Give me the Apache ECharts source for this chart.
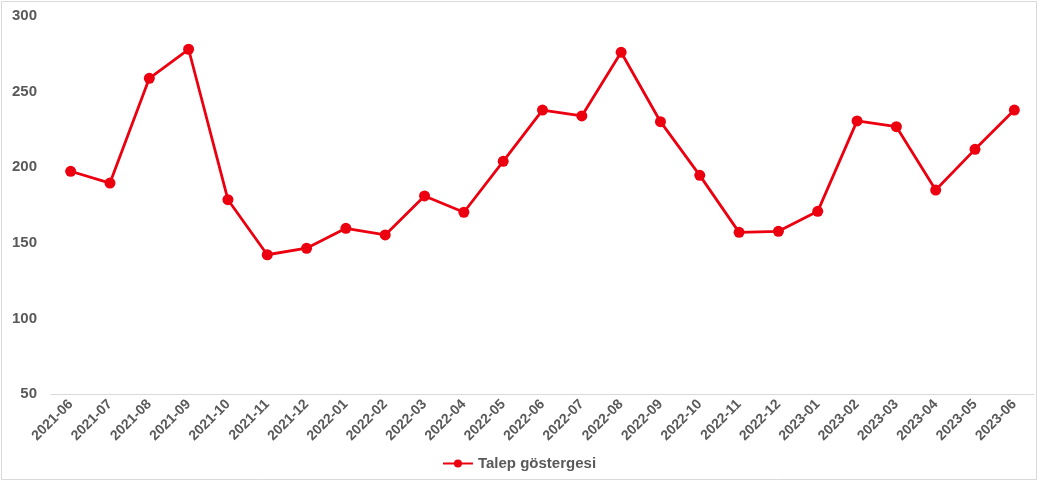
<!DOCTYPE html>
<html>
<head>
<meta charset="utf-8">
<script src="https://cdn.jsdelivr.net/npm/echarts@6/dist/echarts.min.js"></script>
<style>
  html, body { margin: 0; padding: 0; background: #fff; }
  #chart { width: 1038px; height: 481px; }
</style>
</head>
<body>
<div id="chart"></div>
<script>
// Monthly periods on the category axis
const months = [
  '2021-06', '2021-07', '2021-08', '2021-09', '2021-10', '2021-11', '2021-12',
  '2022-01', '2022-02', '2022-03', '2022-04', '2022-05', '2022-06', '2022-07',
  '2022-08', '2022-09', '2022-10', '2022-11', '2022-12',
  '2023-01', '2023-02', '2023-03', '2023-04', '2023-05', '2023-06'
];

// Demand indicator values
const talep = [
  197.3, 189.5, 258.8, 278.0, 178.5, 142.1, 146.4,
  159.6, 155.2, 181.0, 170.2, 203.9, 237.8, 233.9,
  276.0, 230.1, 194.6, 156.9, 157.6,
  170.8, 230.6, 226.8, 184.9, 211.8, 237.8
];

const seriesName = 'Talep göstergesi';
const yMin = 50, yMax = 300, yStep = 50;

const chart = echarts.init(document.getElementById('chart'), null, { renderer: 'canvas' });
const red = '#ec0010';
const labelColor = '#595959';
const font = '"Liberation Sans", Arial, sans-serif';

chart.setOption({
  animation: false,
  backgroundColor: '#fff',
  graphic: [{
    type: 'rect',
    shape: { x: 1.5, y: 1.5, width: 1035, height: 478 },
    style: { fill: 'none', stroke: '#d9d9d9', lineWidth: 1 },
    silent: true
  }],
  grid: { left: 51, right: 4, top: 16, bottom: 87, containLabel: false },
  legend: {
    bottom: 5,
    left: 'center',
    itemWidth: 30,
    itemHeight: 10,
    itemGap: 4,
    textStyle: { color: labelColor, fontSize: 15, fontWeight: 'bold', fontFamily: font },
    data: [seriesName]
  },
  xAxis: {
    type: 'category',
    data: months,
    boundaryGap: true,
    axisLine: { show: true, lineStyle: { color: '#d9d9d9', width: 1 } },
    axisTick: { show: false },
    axisLabel: {
      rotate: 45,
      interval: 0,
      margin: 8,
      color: labelColor,
      fontSize: 14,
      fontWeight: 'bold',
      fontFamily: font
    }
  },
  yAxis: {
    type: 'value',
    min: yMin,
    max: yMax,
    interval: yStep,
    axisLine: { show: false },
    axisTick: { show: false },
    splitLine: { show: false },
    axisLabel: {
      margin: 14,
      color: labelColor,
      fontSize: 15,
      fontWeight: 'bold',
      fontFamily: font
    }
  },
  series: [{
    name: seriesName,
    type: 'line',
    data: talep,
    symbol: 'circle',
    symbolSize: 11,
    lineStyle: { color: red, width: 2.8 },
    itemStyle: { color: red }
  }]
});
</script>
</body>
</html>
